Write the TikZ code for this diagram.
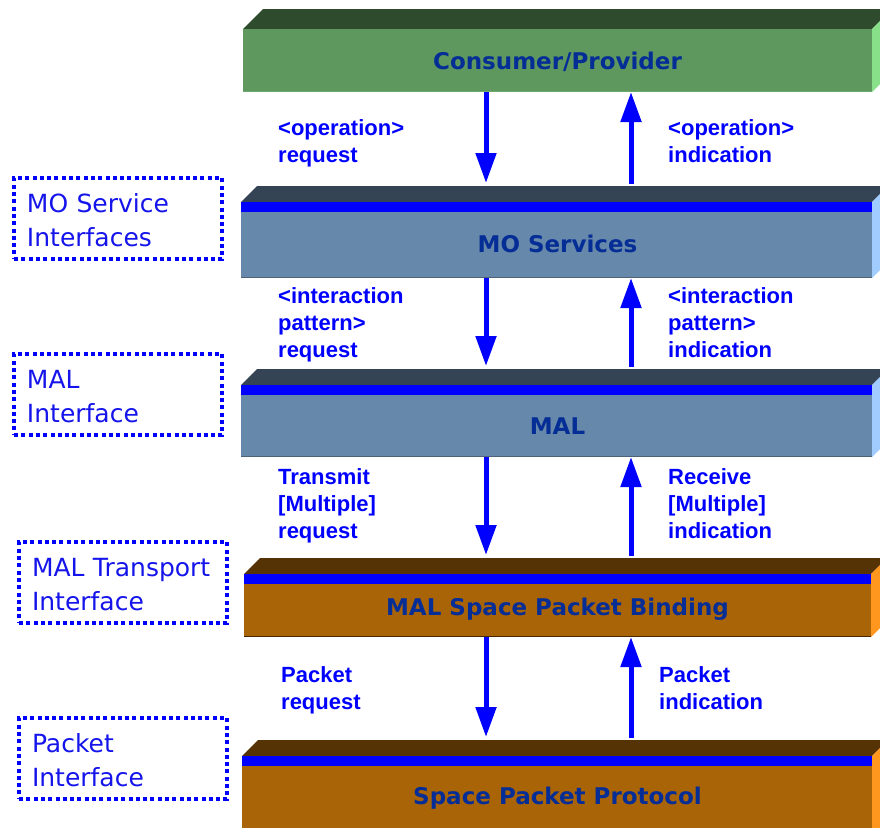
\documentclass[tikz,border=0pt]{standalone}
\usepackage{fontspec}
\setmainfont{DejaVu Sans}
\newfontfamily\labelfont{Liberation Sans}
\usetikzlibrary{arrows.meta}

% layer palettes: front / top / side / bottom edge
\definecolor{grfront}{RGB}{94,152,94}
\definecolor{grtop}{RGB}{46,75,46}
\definecolor{grside}{RGB}{136,224,136}
\definecolor{gredge}{RGB}{110,170,110}
\definecolor{slfront}{RGB}{102,136,170}
\definecolor{sltop}{RGB}{52,68,85}
\definecolor{slside}{RGB}{160,204,255}
\definecolor{sledge}{RGB}{78,98,120}
\definecolor{orfront}{RGB}{170,100,8}
\definecolor{ortop}{RGB}{85,51,5}
\definecolor{orside}{RGB}{255,150,30}
\definecolor{oredge}{RGB}{70,40,0}
\definecolor{bandblue}{RGB}{0,0,255}
\definecolor{titlenavy}{RGB}{5,45,150}
\definecolor{labelblue}{RGB}{0,0,255}
\definecolor{ifblue}{RGB}{20,20,235}

% #1 name, #2 left x, #3 right x, #4 front top y, #5 bottom y, #6 depth, #7 palette
\newcommand\drawlayer[7]{%
  \fill[#7top] (#2,#4) -- (#2+#6,#4-#6) -- (#3+#6,#4-#6) -- (#3,#4) -- cycle;
  \fill[#7side] (#3,#4) -- (#3+#6,#4-#6) -- (#3+#6,#5-#6) -- (#3,#5) -- cycle;
  \node[frontface, fill=#7front, minimum width=#3-#2, minimum height=#5-#4]
    (#1) at ({(#2+#3)/2},{(#4+#5)/2}) {};
  \draw[#7edge, line width=1.5pt] ([yshift=0.75pt]#1.south west) -- ([yshift=0.75pt]#1.south east);
  \coordinate (#1top) at ({(#2+#3)/2},#4-#6);
}
\newcommand\drawband[1]{%
  \fill[bandblue] (#1.north west) rectangle ([yshift=-10pt]#1.north east);
}

\begin{document}
\begin{tikzpicture}[x=1pt,y=-1pt,
  frontface/.style={rectangle, draw=none, inner sep=0pt, outer sep=0pt},
  title/.style={font=\bfseries\fontsize{23}{27}\selectfont, text=titlenavy, inner sep=0pt},
  flow/.style={line width=5pt, draw=bandblue, -{Triangle[length=30pt,width=20pt]}},
  flowlabel/.style={font=\labelfont\bfseries\fontsize{22}{27}\selectfont, text=labelblue,
    align=left, inner sep=0pt, anchor=west,
    execute at begin node=\strut, execute at end node=\strut},
  iface/.style={draw=bandblue, line width=4pt, dash pattern=on 4pt off 3.3pt,
    minimum width=208pt, minimum height=81pt, text width=182pt, inner xsep=13pt,
    inner ysep=0pt, align=left, text=ifblue, font=\fontsize{25}{34}\selectfont,
    execute at begin node={\rule{0pt}{32pt}}, execute at end node=\strut}
]
\useasboundingbox (0,0) rectangle (880,827);
\clip (0,0) rectangle (880,827);

% stacked layers
\drawlayer{b1}{243}{872}{29}{92}{20}{gr}
\drawlayer{b2}{241}{872}{202}{278}{16}{sl}
\drawband{b2}
\drawlayer{b3}{241}{872}{385}{457}{16}{sl}
\drawband{b3}
\drawlayer{b4}{244}{871}{574}{637}{16}{or}
\drawband{b4}
\drawlayer{b5}{242}{872}{756}{840}{16}{or}
\drawband{b5}

\node[title] (t1) at (557.5,61.5) {Consumer/Provider};
\node[title] (t2) at (557.5,244) {MO Services};
\node[title] (t3) at (557.5,426) {MAL};
\node[title] (t4) at (557.5,609) {MAL Space Packet Binding};
\node[title] (t5) at (557.5,798) {Space Packet Protocol};

% arrow columns
\coordinate (dn) at (486,0);
\coordinate (up) at (631,0);

\draw[flow] (b1.south -| dn) -- ([yshift=3pt]b2top -| dn);
\draw[flow] ([yshift=2pt]b2top -| up) -- (b1.south -| up);
\draw[flow] (b2.south -| dn) -- ([yshift=3pt]b3top -| dn);
\draw[flow] ([yshift=2pt]b3top -| up) -- (b2.south -| up);
\draw[flow] (b3.south -| dn) -- ([yshift=3pt]b4top -| dn);
\draw[flow] ([yshift=2pt]b4top -| up) -- (b3.south -| up);
\draw[flow] (b4.south -| dn) -- ([yshift=3pt]b5top -| dn);
\draw[flow] ([yshift=2pt]b5top -| up) -- (b4.south -| up);

% primitive names
\node[flowlabel] (l1) at (278,145.5) {<operation>\\request};
\node[flowlabel] (r1) at (668,145.5) {<operation>\\indication};
\node[flowlabel] (l2) at (278,327) {<interaction\\pattern>\\request};
\node[flowlabel] (r2) at (668,327) {<interaction\\pattern>\\indication};
\node[flowlabel] (l3) at (278,507.5) {Transmit\\{[Multiple]}\\request};
\node[flowlabel] (r3) at (668,507.5) {Receive\\{[Multiple]}\\indication};
\node[flowlabel] (l4) at (281,692.5) {Packet\\request};
\node[flowlabel] (r4) at (659,692.5) {Packet\\indication};

% interface boxes
\node[iface] (i1) at (118,218.5) {MO Service\\Interfaces};
\node[iface] (i2) at (118,394.5) {MAL\\Interface};
\node[iface, inner xsep=12pt] (i3) at (123,582.5) {MAL Transport\\Interface};
\node[iface, inner xsep=12pt] (i4) at (123,758.5) {Packet\\Interface};
\end{tikzpicture}
\end{document}
